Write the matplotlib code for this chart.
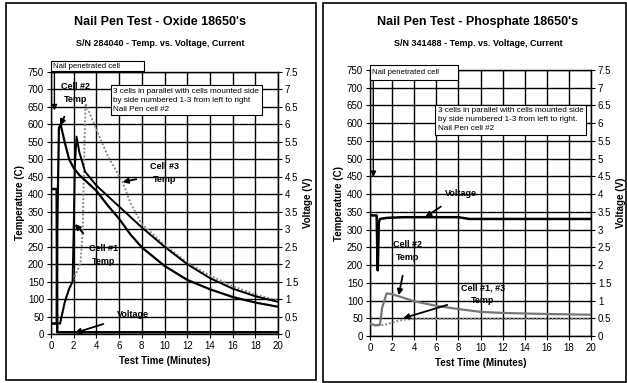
import matplotlib
matplotlib.use("Agg")
import matplotlib.pyplot as plt
from matplotlib.patches import Rectangle

plt.rcParams['font.family'] = ['Liberation Sans', 'DejaVu Sans']

# ---- Oxide 18650 data (left panel) ----
ox_t_c2 = [0, 0.5, 0.55, 0.7, 0.85, 1.2, 1.6, 2.0, 2.5, 3.0, 4.0, 5.0, 6.0, 7.0, 8.0, 10, 12, 14, 16, 18, 20]
ox_c2 = [30, 30, 300, 590, 600, 550, 500, 475, 455, 440, 410, 368, 330, 285, 248, 195, 155, 128, 106, 90, 78]
ox_t_c1 = [0, 0.8, 1.2, 1.6, 1.9, 2.0, 2.1, 2.25, 2.5, 3.0, 4.0, 5.0, 6.0, 7.0, 8.0, 10, 12, 14, 16, 18, 20]
ox_c1 = [30, 30, 90, 130, 150, 300, 480, 565, 520, 465, 425, 395, 365, 335, 305, 250, 200, 160, 130, 108, 92]
ox_t_c3 = [0, 0.8, 1.3, 1.85, 2.3, 2.6, 2.8, 2.95, 3.05, 4.0, 5.0, 6.3, 7.0, 8.0, 10, 12, 14, 16, 18, 20]
ox_c3 = [30, 30, 100, 146, 180, 203, 300, 550, 660, 585, 510, 435, 375, 315, 255, 205, 167, 137, 113, 96]
ox_t_v = [0, 0.5, 0.55, 20]
ox_v = [4.15, 4.15, 0.05, 0.05]

# ---- Phosphate 18650 data (right panel) ----
ph_t_v = [0, 0.6, 0.7, 0.8, 0.9, 1.5, 3, 8, 9, 20]
ph_v = [3.4, 3.4, 1.85, 3.2, 3.3, 3.33, 3.35, 3.35, 3.3, 3.3]
ph_t_c2 = [0, 0.5, 0.9, 1.1, 1.5, 2.0, 3, 4, 6, 8, 10, 12, 16, 20]
ph_c2 = [35, 30, 32, 80, 120, 118, 108, 98, 85, 76, 68, 65, 62, 60]
ph_t_c13 = [0, 0.5, 1, 1.5, 2, 2.5, 3, 4, 6, 10, 20]
ph_c13 = [35, 30, 30, 33, 38, 42, 46, 48, 48, 48, 48]

x_ticks = list(range(0, 21, 2))
t_ticks = list(range(0, 751, 50))
v_ticks = [i * 0.5 for i in range(16)]
v_labels = ['0', '0.5', '1', '1.5', '2', '2.5', '3', '3.5', '4', '4.5', '5', '5.5', '6', '6.5', '7', '7.5']

note_ox = "3 cells in parallel with cells mounted side\nby side numbered 1-3 from left to right\nNail Pen cell #2"
note_ph = "3 cells in parallel with cells mounted side\nby side numbered 1-3 from left to right.\nNail Pen cell #2"


def setup_axes(ax):
    ax.set_xlim(0, 20)
    ax.set_ylim(0, 750)
    ax.set_xticks(x_ticks)
    ax.set_yticks(t_ticks)
    ax.tick_params(labelsize=7, length=3, pad=2)
    ax.grid(True, color='black', linewidth=1.0)
    for s in ax.spines.values():
        s.set_linewidth(1.0)
    ax.set_xlabel('Test Time (Minutes)', fontsize=7, fontweight='bold', labelpad=4)
    ax.set_ylabel('Temperature (C)', fontsize=7, fontweight='bold', labelpad=2)
    ax2 = ax.twinx()
    ax2.set_ylim(0, 7.5)
    ax2.set_yticks(v_ticks)
    ax2.set_yticklabels(v_labels)
    ax2.tick_params(labelsize=7, length=3, pad=2)
    ax2.set_ylabel('Voltage (V)', fontsize=7, fontweight='bold', labelpad=3)
    for side in ['top', 'bottom', 'left']:
        ax2.spines[side].set_visible(False)
    return ax2


def label(ax, text, xy, xytext):
    ax.annotate(text, xy=xy, xytext=xytext, fontsize=6.5, fontweight='bold',
                ha='center', va='center', linespacing=1.6, zorder=6,
                arrowprops=dict(arrowstyle='-|>', color='black', lw=1.3,
                                mutation_scale=8, shrinkA=8, shrinkB=0))


def nail_box(ax, x0, x1, y0, y1, arrow_to):
    ax.add_patch(Rectangle((x0, y0), x1 - x0, y1 - y0, fc='white', ec='black',
                           lw=0.8, clip_on=False, zorder=7))
    ax.text(x0 + 0.15, (y0 + y1) / 2, 'Nail penetrated cell', fontsize=5.6,
            va='center', ha='left', zorder=8, clip_on=False)
    ax.annotate('', xy=(0.3, arrow_to), xytext=(0.3, y0),
                arrowprops=dict(arrowstyle='-|>', color='black', lw=1.0, mutation_scale=8,
                                shrinkA=0, shrinkB=0), annotation_clip=False, zorder=6)


fig = plt.figure(figsize=(6.27, 3.83), dpi=100)

# panel frames
fig.patches.append(Rectangle((6 / 627, 1 - 380 / 383), 310 / 627, 377 / 383,
                             transform=fig.transFigure, fill=False, lw=1.2, ec='black'))
fig.patches.append(Rectangle((323 / 627, 1 - 382 / 383), 303 / 627, 379 / 383,
                             transform=fig.transFigure, fill=False, lw=1.2, ec='black'))

# ---- left panel ----
axL = fig.add_axes([51 / 627, 1 - 334 / 383, 227 / 627, 262 / 383])
axL2 = setup_axes(axL)
axL.plot(ox_t_c3, ox_c3, color='#8a8a8a', lw=1.4, ls=(0, (1, 1)), zorder=3)
axL.plot(ox_t_c1, ox_c1, color='black', lw=1.4, zorder=3)
axL.plot(ox_t_c2, ox_c2, color='black', lw=1.6, zorder=3)
axL2.plot(ox_t_v, ox_v, color='black', lw=1.8)

label(axL, 'Cell #2\nTemp', (0.8, 597), (2.2, 690))
label(axL, 'Cell #3\nTemp', (6.3, 435), (10.0, 460))
label(axL, 'Cell #1\nTemp', (2.1, 315), (4.6, 225))
label(axL, 'Voltage', (2.1, 3), (7.2, 55))
nail_box(axL, 0.0, 8.2, 752, 782, 640)
axL.text(5.5, 705, note_ox, fontsize=5.9, va='top', ha='left', linespacing=1.4, zorder=7,
         bbox=dict(boxstyle='square,pad=0.3', fc='white', ec='black', lw=0.8))

fig.text(160 / 627, 1 - 22 / 383, "Nail Pen Test - Oxide 18650's", fontsize=9,
         fontweight='bold', ha='center', va='center')
fig.text(160 / 627, 1 - 43 / 383, 'S/N 284040 - Temp. vs. Voltage, Current', fontsize=6.5,
         fontweight='bold', ha='center', va='center')

# ---- right panel ----
axR = fig.add_axes([370 / 627, 1 - 336 / 383, 221 / 627, 266 / 383])
axR2 = setup_axes(axR)
axR.plot(ph_t_c13, ph_c13, color='#8a8a8a', lw=1.4, ls=(0, (1, 1)), zorder=3)
axR.plot(ph_t_c2, ph_c2, color='#777777', lw=1.6, zorder=3)
axR2.plot(ph_t_v, ph_v, color='black', lw=1.8)

label(axR, 'Voltage', (5.0, 335), (8.2, 403))
label(axR, 'Cell #2\nTemp', (2.6, 115), (3.4, 240))
label(axR, 'Cell #1, #3\nTemp', (3.0, 50), (10.2, 118))
nail_box(axR, 0.0, 8.0, 722, 765, 448)
axR.text(6.15, 645, note_ph, fontsize=5.9, va='top', ha='left', linespacing=1.4, zorder=7,
         bbox=dict(boxstyle='square,pad=0.3', fc='white', ec='black', lw=0.8))

fig.text(478 / 627, 1 - 22 / 383, "Nail Pen Test - Phosphate 18650's", fontsize=9,
         fontweight='bold', ha='center', va='center')
fig.text(478 / 627, 1 - 43 / 383, 'S/N 341488 - Temp. vs. Voltage, Current', fontsize=6.5,
         fontweight='bold', ha='center', va='center')

fig.savefig('out.png', dpi=100)
